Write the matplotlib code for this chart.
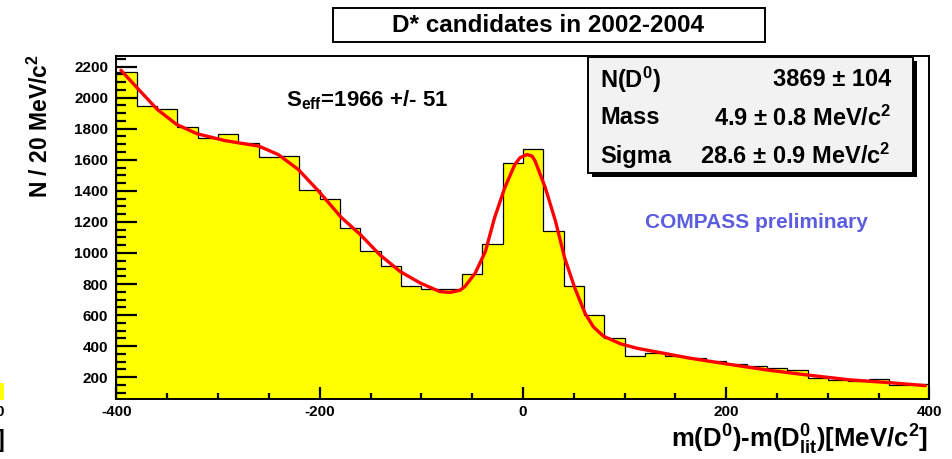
import numpy as np
import matplotlib
matplotlib.use("Agg")
import matplotlib.pyplot as plt
from matplotlib.patches import Rectangle
from matplotlib.ticker import MultipleLocator

plt.rcParams['font.family'] = ['Liberation Sans', 'DejaVu Sans']
plt.rcParams['font.weight'] = 'bold'
plt.rcParams['mathtext.fontset'] = 'custom'
plt.rcParams['mathtext.rm'] = 'Liberation Sans:bold'
plt.rcParams['mathtext.it'] = 'Liberation Sans:bold'
plt.rcParams['mathtext.bf'] = 'Liberation Sans:bold'

# ---- data ----
bin_low, bin_high, n_bins = -400, 400, 40
counts = [2168, 1946, 1925, 1813, 1742, 1763, 1705, 1615, 1625, 1408,
          1350, 1161, 1010, 914, 785, 768, 768, 864, 1060, 1576,
          1671, 1139, 787, 602, 452, 339, 359, 335, 326, 303,
          288, 273, 258, 245, 195, 185, 178, 188, 150, 157]

fit_x = [-395.6, -380, -360, -341, -321, -293, -260, -241, -221, -201,
         -179, -160, -141, -121, -101, -82, -72, -62, -57, -47,
         -37, -28, -18, -8, -3, 4, 9, 12, 22, 32,
         41, 51, 61, 69, 79, 96, 112, 138, 164, 200,
         240, 279, 322, 361, 396]
fit_y = [2176, 2065, 1925, 1828, 1768, 1723, 1688, 1634, 1537, 1397,
         1230, 1118, 989, 881, 806, 752, 746, 760, 785, 871,
         1010, 1226, 1419, 1570, 1613, 1634, 1623, 1591, 1419, 1204,
         968, 774, 613, 526, 465, 415, 387, 355, 323, 286,
         247, 215, 183, 165, 146]

xticks = [-400, -200, 0, 200, 400]
yticks = [200, 400, 600, 800, 1000, 1200, 1400, 1600, 1800, 2000, 2200]

title = "D* candidates in 2002-2004"
stats_rows = [("N(D$^0$)", "3869 \u00b1 104"),
              ("Mass", "4.9 \u00b1 0.8 MeV/c$^2$"),
              ("Sigma", "28.6 \u00b1 0.9 MeV/c$^2$")]

W, H = 953, 459
fig = plt.figure(figsize=(W / 100, H / 100), dpi=100)


def fx(x):
    return x / W


def fy(y):
    return 1 - y / H


L, R, T, B = 116.5, 929.5, 56, 399
ax = fig.add_axes([fx(L), fy(B), (R - L) / W, (B - T) / H])

edges = np.linspace(bin_low, bin_high, n_bins + 1)
ax.stairs(counts, edges, fill=True, color='#ffff00', baseline=0, zorder=1)
ax.stairs(counts, edges, color='black', lw=0.9, baseline=0, zorder=2)
ax.plot(fit_x, fit_y, color='#ff0000', lw=2.4, solid_joinstyle='round',
        solid_capstyle='round', zorder=3)

ax.set_xlim(-400, 400)
ax.set_ylim(60, 2268)
ax.set_xticks(xticks)
ax.set_yticks(yticks)
ax.set_xticklabels([str(v) for v in xticks])
ax.set_yticklabels([str(v) for v in yticks])
ax.xaxis.set_minor_locator(MultipleLocator(50))
ax.yaxis.set_minor_locator(MultipleLocator(50))
ax.tick_params(axis='y', which='major', direction='in', length=15, width=1.6,
               labelsize=11, pad=6, right=False)
ax.tick_params(axis='y', which='minor', direction='in', length=7.5, width=1.6,
               right=False)
ax.tick_params(axis='x', which='major', direction='in', length=9, width=1.6,
               labelsize=11, pad=4, top=False)
ax.tick_params(axis='x', which='minor', direction='in', length=4.5, width=1.6,
               top=False)
for lab in ax.get_xticklabels() + ax.get_yticklabels():
    lab.set_fontweight('bold')
for s in ax.spines.values():
    s.set_linewidth(1.4)

# title box
fig.patches.append(Rectangle((fx(333), fy(42)), (765 - 333) / W, (42 - 8) / H,
                             transform=fig.transFigure, facecolor='white',
                             edgecolor='black', lw=1.4, zorder=5))
fig.text(fx(548), fy(25), title, ha='center', va='center', fontsize=17.5,
         fontweight='bold', zorder=6)

# stats box with shadow
bx0, by0, bx1, by1 = 588, 57, 913, 173
fig.patches.append(Rectangle((fx(bx0 + 4), fy(by1 + 4)), (bx1 - bx0) / W, (by1 - by0) / H,
                             transform=fig.transFigure, facecolor='black',
                             edgecolor='black', lw=0, zorder=5))
fig.patches.append(Rectangle((fx(bx0), fy(by1)), (bx1 - bx0) / W, (by1 - by0) / H,
                             transform=fig.transFigure, facecolor='#f2f2f2',
                             edgecolor='black', lw=1.4, zorder=6))
for i, (lab, val) in enumerate(stats_rows):
    yy = 80 + 38 * i
    fig.text(fx(600), fy(yy), lab, ha='left', va='center', fontsize=17,
             fontweight='bold', zorder=7)
    fig.text(fx(891), fy(yy), val, ha='right', va='center', fontsize=17,
             fontweight='bold', zorder=7)

fig.text(fx(286), fy(100), "S$_{eff}$=1966 +/- 51", ha='left', va='center',
         fontsize=16, fontweight='bold')
fig.text(fx(645), fy(222), "COMPASS preliminary", ha='left', va='center',
         fontsize=15, fontweight='bold', color='#5c5ce0')

fig.text(fx(40), fy(54), "N / 20 MeV/c$^2$", rotation=90, ha='center', va='top',
         fontsize=16.5, fontweight='bold')
fig.text(fx(928), fy(440), "m(D$^0$)-m(D$^0_{lit}$)[MeV/c$^2$]", ha='right',
         va='center', fontsize=18.5, fontweight='bold')

# fragment of neighbouring pad at left edge
fig.patches.append(Rectangle((0, fy(400)), 4 / W, 17 / H, transform=fig.transFigure,
                             facecolor='#ffff00', edgecolor='none', zorder=4))
fig.text(fx(-5), fy(412), "0", ha='left', va='center', fontsize=11, fontweight='bold')
fig.text(fx(-3), fy(440), "]", ha='left', va='center', fontsize=17, fontweight='bold')

fig.savefig("out.png", dpi=100)
